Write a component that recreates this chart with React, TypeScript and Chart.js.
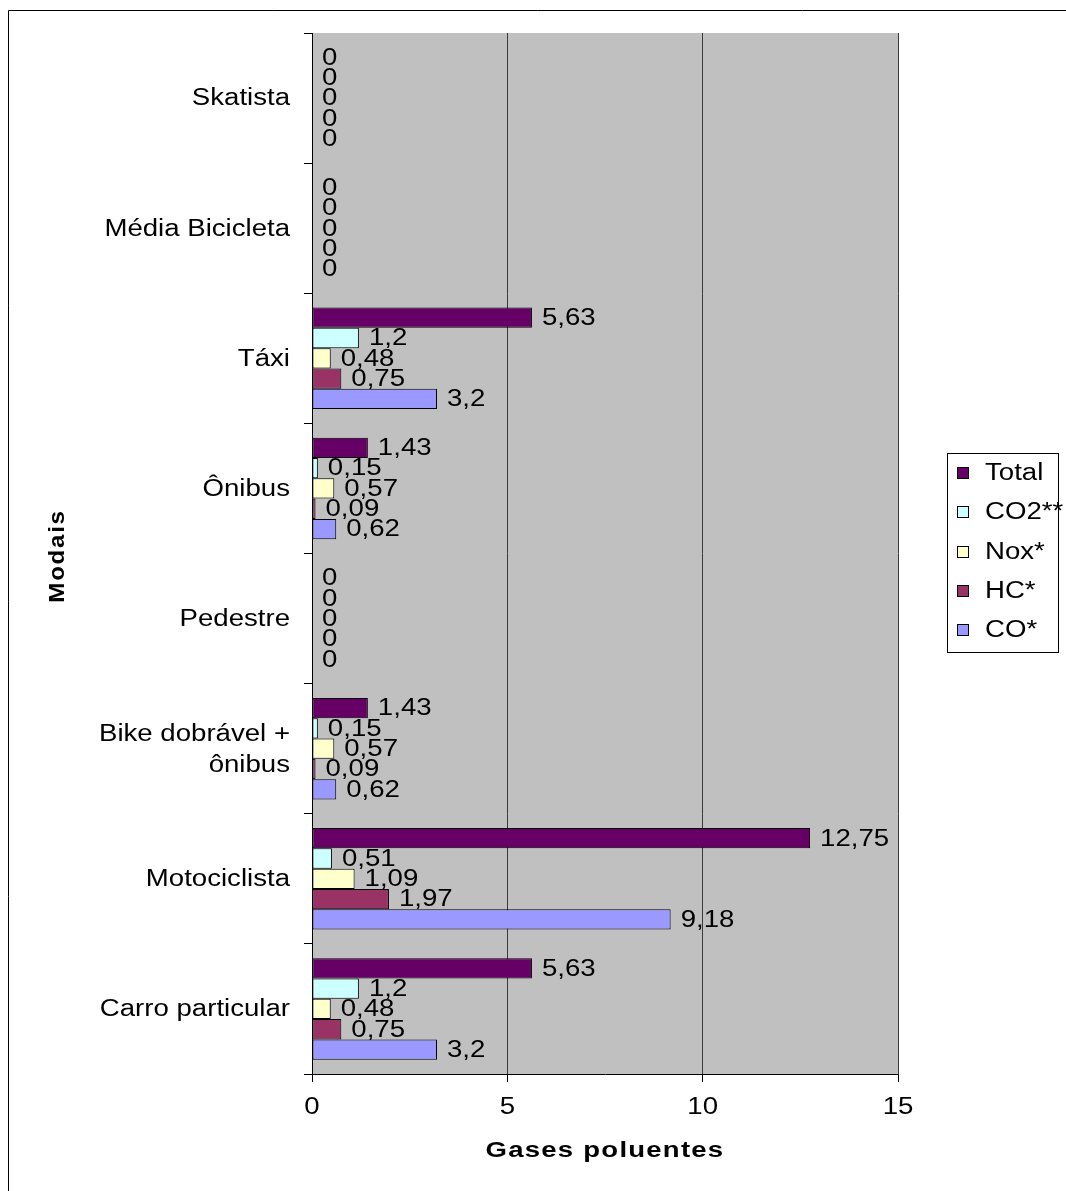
import React, { useEffect, useRef } from 'react';
import { Chart, registerables } from 'chart.js';

Chart.register(...registerables);

const categories: (string | string[])[] = [
  'Skatista',
  'Média Bicicleta',
  'Táxi',
  'Ônibus',
  'Pedestre',
  ['Bike dobrável +', 'ônibus'],
  'Motociclista',
  'Carro particular',
];

const seriesNames = ['Total', 'CO2**', 'Nox*', 'HC*', 'CO*'];
const totalValues = [0, 0, 5.63, 1.43, 0, 1.43, 12.75, 5.63];
const co2Values = [0, 0, 1.2, 0.15, 0, 0.15, 0.51, 1.2];
const noxValues = [0, 0, 0.48, 0.57, 0, 0.57, 1.09, 0.48];
const hcValues = [0, 0, 0.75, 0.09, 0, 0.09, 1.97, 0.75];
const coValues = [0, 0, 3.2, 0.62, 0, 0.62, 9.18, 3.2];
const seriesColors = ['#660066', '#CCFFFF', '#FFFFCC', '#993366', '#9999FF'];
const xTickValues = [0, 5, 10, 15];
const xTitle = 'Gases poluentes';
const yTitle = 'Modais';

const FONT = '"Liberation Sans", Arial, sans-serif';
const SX = 1.2;

function drawText(
  ctx: CanvasRenderingContext2D,
  s: string,
  x: number,
  y: number,
  align: 'left' | 'right' | 'center',
  font: string,
  spacing = 0,
  sx = SX
) {
  ctx.save();
  ctx.font = font;
  (ctx as any).letterSpacing = spacing + 'px';
  ctx.textBaseline = 'middle';
  ctx.textAlign = 'left';
  ctx.fillStyle = '#000';
  const w = ctx.measureText(s).width * sx;
  const x0 = align === 'left' ? x : align === 'right' ? x - w : x - w / 2;
  ctx.translate(x0, y);
  ctx.scale(sx, 1);
  ctx.fillText(s, 0, 0);
  ctx.restore();
}

const fmt = (v: number) => String(v).replace('.', ',');

export default function App() {
  const ref = useRef<HTMLCanvasElement>(null);

  useEffect(() => {
    if (!ref.current) return;
    const all = [totalValues, co2Values, noxValues, hcValues, coValues];

    const bgPlugin = {
      id: 'bg',
      beforeDraw(chart: any) {
        const { ctx, chartArea: a } = chart;
        ctx.save();
        ctx.fillStyle = '#fff';
        ctx.fillRect(0, 0, chart.width, chart.height);
        ctx.fillStyle = '#C0C0C0';
        ctx.fillRect(a.left, a.top, a.right - a.left, a.bottom - a.top);
        ctx.restore();
      },
    };

    const textPlugin = {
      id: 'texts',
      afterDraw(chart: any) {
        const ctx: CanvasRenderingContext2D = chart.ctx;
        const xs = chart.scales.x;
        const ys = chart.scales.y;
        const a = chart.chartArea;
        const f = `23px ${FONT}`;

        // outer frame
        ctx.save();
        ctx.strokeStyle = '#000';
        ctx.lineWidth = 1;
        ctx.beginPath();
        ctx.moveTo(8.5, chart.height + 5);
        ctx.lineTo(8.5, 10.5);
        ctx.lineTo(chart.width + 5, 10.5);
        ctx.stroke();
        ctx.restore();

        // data labels
        chart.data.datasets.forEach((ds: any, i: number) => {
          const meta = chart.getDatasetMeta(i);
          meta.data.forEach((bar: any, j: number) => {
            drawText(ctx, fmt(ds.data[j]), bar.x + 10, bar.y + 1, 'left', f);
          });
        });

        // y tick labels
        categories.forEach((c, i) => {
          const y = ys.getPixelForValue(i);
          const lines = Array.isArray(c) ? c : [c];
          const lh = 31;
          lines.forEach((ln, k) => {
            drawText(ctx, ln, a.left - 22, y + 1 + (k - (lines.length - 1) / 2) * lh, 'right', f);
          });
        });

        // x tick labels
        xTickValues.forEach((v) => {
          drawText(ctx, String(v), xs.getPixelForValue(v), 1108, 'center', f);
        });

        // axis titles
        drawText(ctx, xTitle, (a.left + a.right) / 2, 1151, 'center', `bold 22px ${FONT}`, 1, 1.25);
        ctx.save();
        ctx.translate(58, 556);
        ctx.rotate(-Math.PI / 2);
        drawText(ctx, yTitle, 0, 0, 'center', `bold 22px ${FONT}`, 1.5, 1.1);
        ctx.restore();

        // legend
        ctx.save();
        ctx.strokeStyle = '#000';
        ctx.lineWidth = 1;
        ctx.strokeRect(947.5, 453.5, 111, 199);
        seriesNames.forEach((n, i) => {
          const cy = Math.round(473 + i * 39.3);
          ctx.fillStyle = seriesColors[i];
          ctx.fillRect(957, cy - 6, 12, 12);
          ctx.strokeRect(957.5, cy - 5.5, 11, 11);
          drawText(ctx, n, 985, cy + 1, 'left', f);
        });
        ctx.restore();
      },
    };

    const chart = new Chart(ref.current, {
      type: 'bar',
      data: {
        labels: categories as any,
        datasets: all.map((d, i) => ({
          label: seriesNames[i],
          data: d,
          backgroundColor: seriesColors[i],
          borderColor: '#000',
          borderWidth: 1,
          borderSkipped: false,
          categoryPercentage: 0.78,
          barPercentage: 1,
        })),
      },
      options: {
        indexAxis: 'y',
        responsive: false,
        animation: false,
        events: [],
        layout: { padding: { top: 33, right: 168, left: 0, bottom: 0 } },
        plugins: {
          legend: { display: false },
          tooltip: { enabled: false },
          title: { display: false },
        },
        scales: {
          x: {
            type: 'linear',
            min: 0,
            max: 15,
            ticks: { stepSize: 5, display: false },
            grid: { color: '#3a3a3a', tickColor: '#000', tickLength: 8, lineWidth: 1 },
            border: { color: '#000', width: 1 },
            afterFit: (s: any) => {
              s.height = 1191 - 1074;
            },
          },
          y: {
            type: 'category',
            ticks: { display: false },
            grid: { drawOnChartArea: false, tickColor: '#000', tickLength: 8, offset: true },
            border: { color: '#000', width: 1 },
            afterFit: (s: any) => {
              s.width = 312;
            },
          },
        },
      },
      plugins: [bgPlugin, textPlugin],
    } as any);

    return () => chart.destroy();
  }, []);

  return (
    <div style={{ position: 'absolute', left: 0, top: 0, width: 1066, height: 1191, overflow: 'hidden', background: '#fff' }}>
      <canvas ref={ref} width={1066} height={1191} style={{ display: 'block', width: 1066, height: 1191 }} />
    </div>
  );
}
